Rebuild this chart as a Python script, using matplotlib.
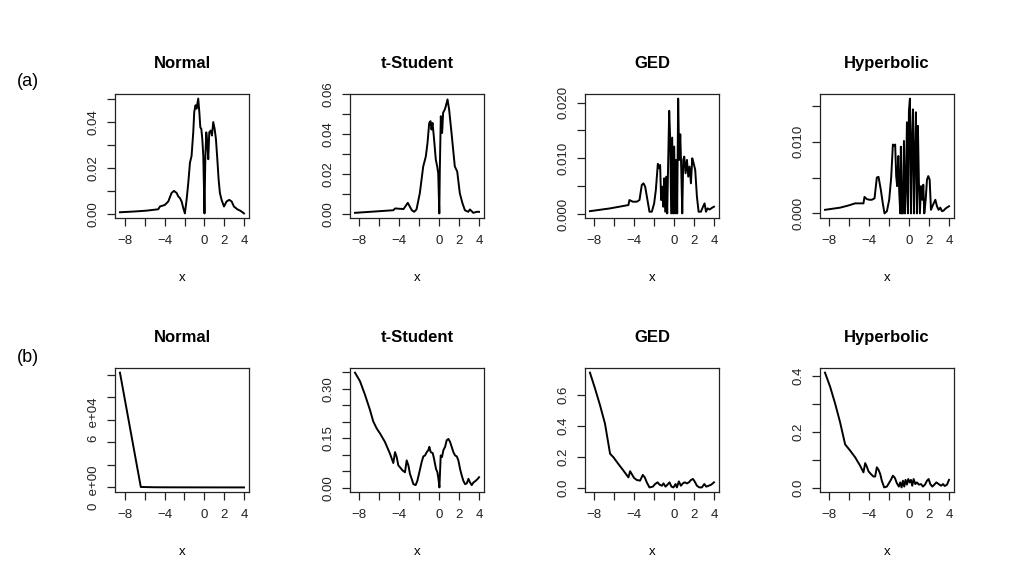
import matplotlib
matplotlib.use("Agg")
from matplotlib import pyplot as plt

plt.rcParams["font.family"] = ["Liberation Sans", "DejaVu Sans"]

titles = ["Normal", "t-Student", "GED", "Hyperbolic"]
xTicks = [-8, -6, -4, -2, 0, 2, 4]
xTickLabels = ["−8", "", "−4", "", "0", "2", "4"]

# ===== (a) =====
normalA_x = [-8.50, -7.16, -5.82, -4.65, -4.48, -3.98, -3.64, -3.31, -3.07, -2.80, -2.64, -2.47, -2.30,
             -2.13, -1.97, -1.80, -1.63, -1.46, -1.30, -1.13, -1.03, -0.90, -0.80, -0.63, -0.52, -0.42,
             -0.32, -0.22, -0.12, 0.00, 0.08, 0.18, 0.28, 0.38, 0.48, 0.62, 0.75, 0.88, 1.02, 1.15, 1.29,
             1.42, 1.55, 1.72, 1.96, 2.22, 2.49, 2.73, 2.96, 3.30, 3.63, 3.97]
normalA_y = [0.0006, 0.0009, 0.0013, 0.0019, 0.0031, 0.0038, 0.0053, 0.0090, 0.0099, 0.0090, 0.0075, 0.0068,
             0.0053, 0.0024, 0.0001, 0.0060, 0.0134, 0.0222, 0.0251, 0.0354, 0.0443, 0.0472, 0.0457, 0.0501,
             0.0443, 0.0376, 0.0369, 0.0325, 0.0251, 0.0001, 0.0237, 0.0354, 0.0310, 0.0237, 0.0354, 0.0362,
             0.0340, 0.0399, 0.0369, 0.0325, 0.0237, 0.0149, 0.0090, 0.0060, 0.0031, 0.0053, 0.0060, 0.0053,
             0.0031, 0.0019, 0.0012, 0.0001]

studentA_x = [-8.43, -4.60, -4.42, -3.58, -3.15, -2.75, -2.52, -2.28, -1.95, -1.61, -1.35, -1.18, -1.01,
              -0.88, -0.78, -0.68, -0.55, -0.35, -0.21, -0.11, 0.00, 0.05, 0.15, 0.28, 0.38, 0.55, 0.65,
              0.82, 0.98, 1.22, 1.55, 1.79, 2.05, 2.32, 2.56, 2.90, 3.06, 3.40, 3.73, 3.97]
studentA_y = [0.0005, 0.0018, 0.0027, 0.0024, 0.0055, 0.0018, 0.0010, 0.0022, 0.0103, 0.0237, 0.0287, 0.0355,
              0.0455, 0.0464, 0.0422, 0.0455, 0.0388, 0.0271, 0.0237, 0.0203, 0.0002, 0.0220, 0.0489, 0.0405,
              0.0506, 0.0523, 0.0539, 0.0573, 0.0523, 0.0405, 0.0237, 0.0212, 0.0103, 0.0052, 0.0018, 0.0010,
              0.0022, 0.0005, 0.0010, 0.0010]

gedA_x = [-8.44, -6.42, -4.58, -4.48, -4.14, -3.74, -3.47, -3.24, -3.07, -2.90, -2.67, -2.47, -2.23, -2.00,
          -1.83, -1.63, -1.50, -1.40, -1.30, -1.20, -1.09, -0.99, -0.89, -0.79, -0.69, -0.59, -0.49, -0.39,
          -0.29, -0.19, -0.09, 0.01, 0.11, 0.21, 0.31, 0.41, 0.51, 0.62, 0.72, 0.82, 0.92, 1.02, 1.15, 1.29,
          1.42, 1.55, 1.69, 1.82, 1.96, 2.12, 2.29, 2.46, 2.69, 2.90, 3.06, 3.20, 3.36, 3.57, 3.80, 4.00]
gedA_y = [0.0005, 0.0010, 0.0016, 0.0025, 0.0022, 0.0022, 0.0025, 0.0052, 0.0055, 0.0049, 0.0025, 0.0004,
          0.0004, 0.0019, 0.0043, 0.0090, 0.0082, 0.0088, 0.0025, 0.0049, 0.0013, 0.0064, 0.0004, 0.0067,
          0.0001, 0.0097, 0.0185, 0.0134, 0.0001, 0.0137, 0.0001, 0.0121, 0.0001, 0.0097, 0.0001, 0.0207,
          0.0097, 0.0143, 0.0079, 0.0001, 0.0097, 0.0103, 0.0073, 0.0097, 0.0067, 0.0085, 0.0055, 0.0100,
          0.0091, 0.0079, 0.0031, 0.0004, 0.0004, 0.0013, 0.0019, 0.0004, 0.0010, 0.0008, 0.0011, 0.0013]

hypA_x = [-8.44, -6.93, -6.09, -5.42, -4.58, -4.48, -4.25, -3.98, -3.74, -3.47, -3.24, -3.07, -2.84, -2.64,
          -2.47, -2.23, -2.00, -1.80, -1.63, -1.50, -1.40, -1.30, -1.20, -1.09, -0.99, -0.89, -0.83, -0.73,
          -0.62, -0.52, -0.42, -0.32, -0.22, -0.12, -0.02, 0.08, 0.18, 0.28, 0.38, 0.48, 0.58, 0.68, 0.78,
          0.88, 0.98, 1.08, 1.19, 1.32, 1.42, 1.52, 1.66, 1.79, 1.92, 2.06, 2.19, 2.33, 2.46, 2.63, 2.79,
          2.96, 3.13, 3.30, 3.46, 3.67, 4.00]
hypA_y = [0.0005, 0.0008, 0.0011, 0.0014, 0.0014, 0.0023, 0.0020, 0.0019, 0.0019, 0.0021, 0.0050, 0.0051,
          0.0033, 0.0014, 0.0000, 0.0003, 0.0019, 0.0050, 0.0096, 0.0094, 0.0096, 0.0052, 0.0038, 0.0080,
          0.0029, 0.0000, 0.0093, 0.0000, 0.0000, 0.0101, 0.0000, 0.0038, 0.0127, 0.0000, 0.0143, 0.0160,
          0.0000, 0.0099, 0.0145, 0.0000, 0.0080, 0.0141, 0.0000, 0.0122, 0.0043, 0.0000, 0.0038, 0.0019,
          0.0040, 0.0000, 0.0019, 0.0047, 0.0052, 0.0047, 0.0005, 0.0010, 0.0014, 0.0019, 0.0010, 0.0005,
          0.0008, 0.0003, 0.0004, 0.0007, 0.0010]

# ===== (b) =====
normalB_x = [-8.50, -6.40, -5.00, -3.00, 0.00, 2.00, 4.00]
normalB_y = [102000, 400, 150, 80, 40, 20, 10]

studentB_x = [-8.43, -7.93, -7.43, -6.93, -6.60, -6.26, -5.93, -5.43, -4.92, -4.59, -4.42, -4.25, -4.09,
              -3.92, -3.65, -3.42, -3.25, -3.08, -2.92, -2.75, -2.58, -2.35, -2.18, -1.98, -1.75, -1.58,
              -1.41, -1.24, -1.08, -0.98, -0.84, -0.64, -0.51, -0.31, -0.17, -0.04, 0.03, 0.16, 0.29, 0.43,
              0.60, 0.76, 0.93, 1.10, 1.26, 1.43, 1.60, 1.77, 1.93, 2.10, 2.27, 2.43, 2.60, 2.77, 2.94,
              3.10, 3.27, 3.44, 3.67, 3.87, 4.00]
studentB_y = [0.349, 0.323, 0.282, 0.236, 0.201, 0.180, 0.165, 0.139, 0.103, 0.075, 0.108, 0.093, 0.068,
              0.062, 0.052, 0.047, 0.083, 0.068, 0.042, 0.027, 0.011, 0.008, 0.021, 0.047, 0.078, 0.095,
              0.098, 0.108, 0.114, 0.124, 0.108, 0.105, 0.088, 0.057, 0.047, 0.021, 0.001, 0.098, 0.093,
              0.114, 0.124, 0.144, 0.148, 0.139, 0.124, 0.108, 0.098, 0.095, 0.083, 0.057, 0.037, 0.021,
              0.011, 0.013, 0.027, 0.016, 0.008, 0.016, 0.021, 0.027, 0.032]

gedB_x = [-8.44, -7.93, -7.43, -6.93, -6.42, -6.09, -5.59, -5.08, -4.58, -4.41, -4.25, -4.01, -3.74, -3.41,
          -3.14, -2.94, -2.74, -2.47, -2.13, -1.90, -1.66, -1.46, -1.23, -1.06, -0.86, -0.66, -0.46, -0.26,
          -0.06, 0.15, 0.28, 0.48, 0.68, 0.88, 1.08, 1.29, 1.49, 1.69, 1.89, 2.06, 2.29, 2.53, 2.79, 3.03,
          3.23, 3.47, 3.73, 4.00]
gedB_y = [0.746, 0.643, 0.535, 0.415, 0.220, 0.198, 0.154, 0.111, 0.067, 0.107, 0.089, 0.063, 0.050, 0.046,
          0.083, 0.067, 0.035, 0.002, 0.007, 0.024, 0.035, 0.020, 0.013, 0.028, 0.007, 0.020, 0.035, 0.007,
          0.002, 0.024, 0.002, 0.041, 0.013, 0.028, 0.035, 0.028, 0.035, 0.050, 0.057, 0.041, 0.013, 0.002,
          0.002, 0.024, 0.007, 0.013, 0.020, 0.035]

hypB_x = [-8.44, -7.93, -7.43, -6.93, -6.42, -5.92, -5.42, -4.92, -4.58, -4.41, -4.25, -4.08, -3.84, -3.58,
          -3.41, -3.24, -3.07, -2.90, -2.74, -2.50, -2.23, -2.03, -1.83, -1.63, -1.43, -1.23, -1.03, -0.89,
          -0.76, -0.62, -0.49, -0.36, -0.22, -0.09, 0.05, 0.18, 0.31, 0.45, 0.62, 0.78, 0.98, 1.19, 1.39,
          1.59, 1.79, 1.96, 2.12, 2.33, 2.53, 2.73, 2.96, 3.20, 3.40, 3.57, 3.80, 4.00]
hypB_y = [0.412, 0.362, 0.302, 0.235, 0.155, 0.133, 0.109, 0.079, 0.055, 0.088, 0.076, 0.059, 0.049, 0.040,
          0.040, 0.073, 0.064, 0.049, 0.025, 0.001, 0.004, 0.016, 0.028, 0.043, 0.035, 0.016, 0.004, 0.019,
          0.001, 0.025, 0.004, 0.028, 0.011, 0.031, 0.019, 0.028, 0.007, 0.031, 0.013, 0.019, 0.011, 0.013,
          0.004, 0.011, 0.025, 0.031, 0.013, 0.004, 0.011, 0.019, 0.013, 0.007, 0.013, 0.006, 0.011, 0.028]

# y ticks (R style: every tick drawn, only some labelled)
yTicksA = [
    ([0, 0.01, 0.02, 0.03, 0.04, 0.05], ["0.00", "", "0.02", "", "0.04", ""]),
    ([0, 0.01, 0.02, 0.03, 0.04, 0.05, 0.06], ["0.00", "", "0.02", "", "0.04", "", "0.06"]),
    ([0, 0.005, 0.010, 0.015, 0.020], ["0.000", "", "0.010", "", "0.020"]),
    ([0, 0.005, 0.010, 0.015], ["0.000", "", "0.010", ""]),
]
yTicksB = [
    ([0, 20000, 40000, 60000, 80000, 100000], ["0  e+00", "", "", "6  e+04", "", ""]),
    ([0, 0.05, 0.10, 0.15, 0.20, 0.25, 0.30, 0.35], ["0.00", "", "", "0.15", "", "", "0.30", ""]),
    ([0, 0.2, 0.4, 0.6], ["0.0", "0.2", "0.4", "0.6"]),
    ([0, 0.1, 0.2, 0.3, 0.4], ["0.0", "", "0.2", "", "0.4"]),
]

rows = [
    [(normalA_x, normalA_y), (studentA_x, studentA_y), (gedA_x, gedA_y), (hypA_x, hypA_y)],
    [(normalB_x, normalB_y), (studentB_x, studentB_y), (gedB_x, gedB_y), (hypB_x, hypB_y)],
]

fig = plt.figure(figsize=(10.14, 5.63), dpi=100)
lefts = [0.1134, 0.3452, 0.5769, 0.8087]
bottoms = [0.6128, 0.1261]
width, height = 0.1321, 0.2202

for r, row in enumerate(rows):
    yTicks = yTicksA if r == 0 else yTicksB
    for c, (xs, ys) in enumerate(row):
        ax = fig.add_axes([lefts[c], bottoms[r], width, height])
        ax.plot(xs, ys, color="black", linewidth=1.4)
        ax.margins(x=0.04, y=0.04)
        ax.set_xticks(xTicks, xTickLabels)
        ticks, labels = yTicks[c]
        ax.set_yticks(ticks, labels, rotation=90, va="center")
        ax.tick_params(direction="out", length=6, width=0.9, labelsize=9.5, colors="#222222")
        ax.tick_params(axis="x", pad=6)
        ax.tick_params(axis="y", pad=5)
        for s in ax.spines.values():
            s.set_linewidth(0.9)
            s.set_color("#222222")
        ax.set_title(titles[c], fontsize=12, fontweight="bold", pad=19)
        ax.set_xlabel("x", fontsize=9.5, labelpad=18)

fig.text(17 / 1014, 1 - 81 / 563, "(a)", fontsize=13, va="center")
fig.text(17 / 1014, 1 - 357 / 563, "(b)", fontsize=13, va="center")

plt.savefig("out.png", dpi=100)
plt.close()
